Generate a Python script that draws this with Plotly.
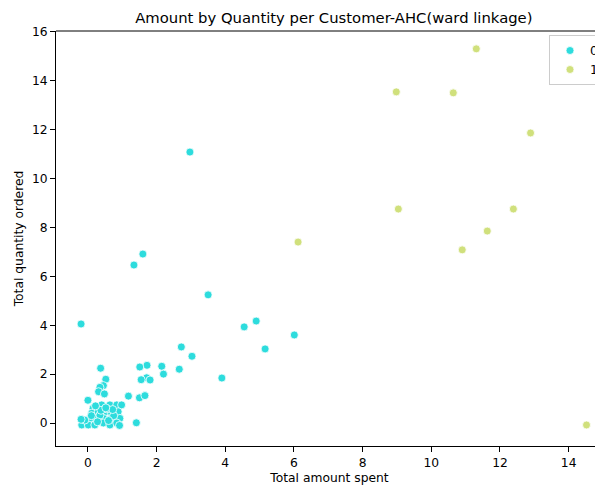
import plotly.graph_objects as go

# cluster 0 points
c0_x = [2.97, 1.60, 1.34, -0.20, 3.50, 4.55, 4.90, 6.01, 5.16, 3.90, 2.72, 3.03, 2.66, 2.15, 2.20,
        1.72, 1.51, 1.71, 1.55, 1.81, 0.52, 0.37, 0.45, 0.35, 0.31, 0.48, 1.18, 1.50, 1.66, 0.00,
        1.41, 0.40, 0.64, 0.84, 0.98, 0.15, 0.11, 0.30, 0.50, 0.69, 0.88, 0.06, 0.25, 0.45, 0.69,
        0.93, -0.18, 0.01, 0.20, 0.45, 0.64, 0.84, 0.92, -0.09, -0.20, 0.35, 0.55, 0.75, 0.28, 0.60,
        0.10, 0.38, 0.72, 0.52, 0.22]
c0_y = [11.08, 6.91, 6.46, 4.05, 5.24, 3.93, 4.17, 3.60, 3.03, 1.84, 3.11, 2.73, 2.20, 2.32, 2.00,
        2.36, 2.29, 1.85, 1.77, 1.76, 1.79, 2.24, 1.53, 1.46, 1.28, 1.19, 1.10, 1.03, 1.12, 0.93,
        0.01, 0.74, 0.74, 0.74, 0.74, 0.60, 0.40, 0.46, 0.46, 0.40, 0.46, 0.19, 0.19, 0.19, 0.19,
        0.19, -0.08, -0.08, -0.08, 0.00, -0.08, 0.00, -0.10, 0.12, 0.15, 0.32, 0.58, 0.30, 0.05, 0.10,
        0.30, 0.52, 0.55, 0.62, 0.70]

# cluster 1 points
c1_x = [11.31, 8.98, 10.64, 12.89, 9.04, 12.39, 6.12, 11.63, 10.90, 14.52]
c1_y = [15.30, 13.54, 13.50, 11.86, 8.75, 8.75, 7.40, 7.85, 7.08, -0.08]

x_ticks = [0, 2, 4, 6, 8, 10, 12, 14]
y_ticks = [0, 2, 4, 6, 8, 10, 12, 14, 16]

FONT = "DejaVu Sans"
FS = 12.3
W, H = 595, 479  # page body has an 8px margin
fig = go.Figure()
fig.add_trace(go.Scatter(x=c0_x, y=c0_y, mode="markers", name="0",
                         marker=dict(color="#2ddcdd", size=8, line=dict(color="white", width=0.8))))
fig.add_trace(go.Scatter(x=c1_x, y=c1_y, mode="markers", name="1",
                         marker=dict(color="#d0e07c", size=8, line=dict(color="white", width=0.8))))

fig.update_layout(
    width=W, height=H,
    margin=dict(l=48, r=0, t=23, b=41, autoexpand=False),
    paper_bgcolor="white", plot_bgcolor="white",
    font=dict(family=FONT, size=FS, color="black"),
    title=dict(text="Amount by Quantity per Customer-AHC(ward linkage)",
               x=0.508, xref="paper", xanchor="center", y=1 - 10 / H, yanchor="middle",
               font=dict(size=14.8, family=FONT, color="black")),
    showlegend=True,
    legend=dict(x=(541 - 48) / 547, y=1 - 4 / 415, xanchor="left", yanchor="top",
                bgcolor="rgba(255,255,255,0.8)", bordercolor="#cccccc", borderwidth=1,
                font=dict(size=FS, family=FONT)),
    xaxis=dict(range=[-0.93, 15.0], tickvals=x_ticks, ticks="outside", ticklen=5, tickcolor="black",
               tickfont=dict(size=FS, family=FONT),
               showgrid=False, zeroline=False, showline=True, linecolor="black", linewidth=1, mirror=False,
               automargin=False,
               title=dict(text="Total amount spent", standoff=4, font=dict(size=FS, family=FONT))),
    yaxis=dict(range=[-0.94, 16.03], tickvals=y_ticks, ticks="outside", ticklen=5, tickcolor="black",
               tickfont=dict(size=FS, family=FONT),
               showgrid=False, zeroline=False, showline=True, linecolor="black", linewidth=1, mirror=False,
               automargin=False,
               title=dict(text="Total quantity ordered", standoff=5, font=dict(size=FS, family=FONT))),
)
# top spine
fig.add_shape(type="line", xref="paper", yref="paper", x0=0, x1=1, y0=1, y1=1,
              line=dict(color="black", width=1))
fig.write_html("out.html")
